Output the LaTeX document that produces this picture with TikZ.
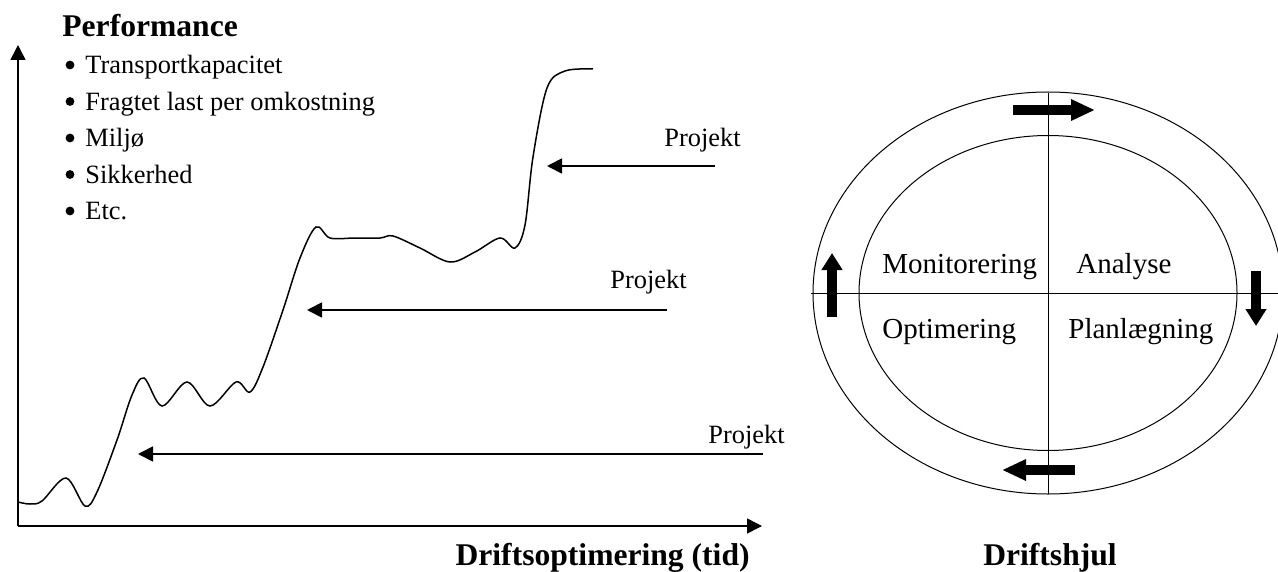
\documentclass[tikz,border=0pt]{standalone}
\usepackage{fontspec}
\setmainfont{Liberation Serif}
\usetikzlibrary{arrows.meta}

\begin{document}
\begin{tikzpicture}[x=0.5pt,y=-0.5pt,
    every node/.style={inner sep=0pt},
    txt/.style={font=\fontsize{13.2pt}{16pt}\selectfont},
    quad/.style={font=\fontsize{14.5pt}{17pt}\selectfont,anchor=base west},
    heading/.style={font=\bfseries\fontsize{15.8pt}{19pt}\selectfont},
    arr/.style={line width=0.9pt,-{Triangle[length=7.5pt,width=7.5pt]}},
    blockarr/.style={line width=5.25pt,-{Triangle[length=#1,width=10pt]}},
    blockarr/.default=12pt]
\useasboundingbox (0,0) rectangle (1278,572);

% axes
\coordinate (O) at (18,526);
\coordinate (ytop) at (18,45);
\coordinate (xend) at (762,526);
\draw [arr, line width=0.75pt] (O) -- (ytop);
\draw [arr, line width=0.75pt] (O) -- (xend);
\node [heading, anchor=base west] (perf) at (62,37) {Performance};
\node [heading, anchor=base east] (xlabel) at (750,565) {Driftsoptimering (tid)};

% performance list
\foreach \lbl [count=\i] in {Transportkapacitet, Fragtet last per omkostning, Miljø, Sikkerhed, Etc.}{
    \node [txt, anchor=base west] (item\i) at (85,{74+36.5*(\i-1)}) {\lbl};
    \fill (70,{65+36.5*(\i-1)}) circle (2.2pt);
}

% performance curve
\draw [line width=0.75pt] plot [smooth, tension=0.55] coordinates {
    (18,502) (30,504) (42,501) (66,478) (85,506) (97,492) (117,440) (132,395)
    (144,378) (162,406) (187,382) (210,406) (236,382) (250,392) (263,367)
    (283,310) (300,258) (316,227) (330,238) (355,238) (380,238) (393,236)
    (420,248) (450,262) (475,252) (500,238) (515,248) (525,225) (533,157)
    (547,88) (565,71) (593,69)};

% projects
\coordinate (p1a) at (715,166);
\coordinate (p1b) at (547,166);
\draw [arr] (p1a) -- (p1b);
\node [txt, anchor=base east] (proj1) at (741,147) {Projekt};
\coordinate (p2a) at (667,310);
\coordinate (p2b) at (307,310);
\draw [arr] (p2a) -- (p2b);
\node [txt, anchor=base east] (proj2) at (687,288) {Projekt};
\coordinate (p3a) at (763,454);
\coordinate (p3b) at (138,454);
\draw [arr] (p3a) -- (p3b);
\node [txt, anchor=base east] (proj3) at (785,443) {Projekt};

% wheel
\coordinate (W) at (1048,293);
\draw [line width=0.5pt] (W) ellipse [x radius=117.5pt, y radius=100.5pt];
\draw [line width=0.5pt] (W) ellipse [x radius=94.5pt, y radius=78.75pt];
\draw [line width=0.5pt] (811,293) -- (1278,293);
\draw [line width=0.5pt] (1048,93) -- (1048,494);
\node [quad] (mon) at (882,273) {Monitorering};
\node [quad] (ana) at (1076,273) {Analyse};
\node [quad] (opt) at (882,338) {Optimering};
\node [quad] (plan) at (1068,338) {Planlægning};
\node [heading, anchor=base] (wheel) at (1050,565) {Driftshjul};

% cycle arrows
\draw [blockarr] (1013,110) -- (1095,110);
\draw [blockarr=8.5pt] (1256,271) -- (1256,326);
\draw [blockarr] (1075,470) -- (1002,470);
\draw [blockarr=8.5pt] (832,317) -- (832,253);
\end{tikzpicture}
\end{document}
